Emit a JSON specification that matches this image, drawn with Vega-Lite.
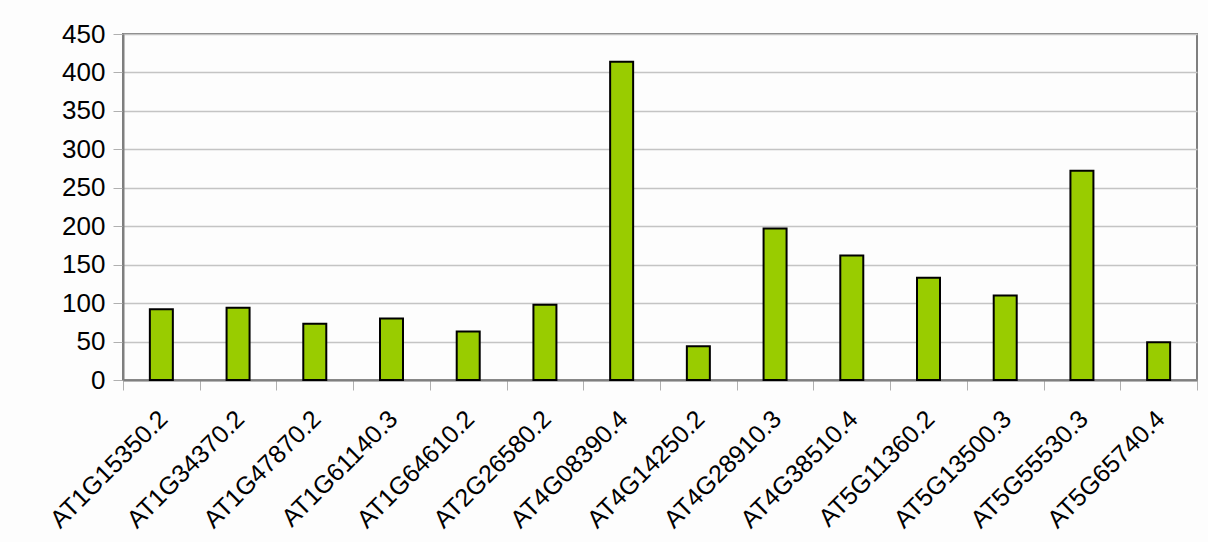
{
  "$schema": "https://vega.github.io/schema/vega-lite/v6.json",
  "autosize": "none",
  "width": 1074,
  "height": 346,
  "padding": {"left": 123, "top": 34, "right": 11, "bottom": 162},
  "background": "#fdfdfd",
  "data": {"values": [
    {"gene": "AT1G15350.2", "value": 92},
    {"gene": "AT1G34370.2", "value": 94},
    {"gene": "AT1G47870.2", "value": 73},
    {"gene": "AT1G61140.3", "value": 80},
    {"gene": "AT1G64610.2", "value": 63},
    {"gene": "AT2G26580.2", "value": 98},
    {"gene": "AT4G08390.4", "value": 414},
    {"gene": "AT4G14250.2", "value": 44},
    {"gene": "AT4G28910.3", "value": 197},
    {"gene": "AT4G38510.4", "value": 162},
    {"gene": "AT5G11360.2", "value": 133},
    {"gene": "AT5G13500.3", "value": 110},
    {"gene": "AT5G55530.3", "value": 272},
    {"gene": "AT5G65740.4", "value": 49}
  ]},
  "mark": {"type": "bar", "size": 23, "fill": "#99cc00", "stroke": "#000000", "strokeWidth": 2},
  "encoding": {
    "x": {
      "field": "gene", "type": "nominal", "sort": null,
      "scale": {"paddingInner": 0, "paddingOuter": 0},
      "axis": {
        "title": null, "labelAngle": -45, "labelFontSize": 25, "labelFont": "Liberation Sans",
        "labelColor": "#000000", "labelAlign": "right", "labelBaseline": "top",
        "labelOffset": -7,
        "tickBand": "extent", "tickSize": 10, "tickColor": "#b0b0b0",
        "domainColor": "#7f7f7f", "domainWidth": 2, "labelPadding": 16, "grid": false
      }
    },
    "y": {
      "field": "value", "type": "quantitative",
      "scale": {"domain": [0, 450], "nice": false},
      "axis": {
        "title": null, "values": [0, 50, 100, 150, 200, 250, 300, 350, 400, 450],
        "labelFontSize": 26, "labelFont": "Liberation Sans", "labelColor": "#000000",
        "tickSize": 10, "tickColor": "#b0b0b0", "labelPadding": 8,
        "domainColor": "#7f7f7f", "domainWidth": 2,
        "gridColor": "#c4c4c4", "gridWidth": 1.5
      }
    }
  },
  "config": {"view": {"stroke": "#7f7f7f", "strokeWidth": 2}}
}
